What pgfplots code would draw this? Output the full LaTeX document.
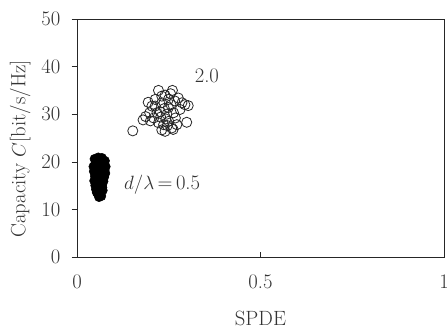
\documentclass[border=0pt]{standalone}
\usepackage{pgfplots}
\pgfplotsset{compat=1.18}
\definecolor{txt}{gray}{0.2}
\begin{document}
\begin{tikzpicture}
\begin{axis}[
  scale only axis, width=275.25pt, height=178.5pt,
  xmin=0, xmax=1, ymin=0, ymax=50,
  xtick={0,0.5,1}, xticklabels={0,0.5,1},
  ytick={0,10,20,30,40,50},
  /pgf/number format/assume math mode=true,
  xtick pos=bottom, ytick pos=left,
  xtick align=inside, ytick align=outside,
  major tick length=4pt,
  font=\fontsize{15.5}{18}\selectfont,
  tick label style={text=txt},
  yticklabel style={xshift=-5pt},
  xticklabel style={yshift=-10pt},
  axis line style={black!85},
  tick style={black!85},
  xlabel={SPDE}, ylabel={Capacity $C$[bit/s/Hz]},
  xlabel style={at={(axis description cs:0.5,-0.258)}, anchor=center, text=txt, inner sep=1pt},
  ylabel style={at={(axis description cs:-0.155,0.455)}, anchor=center, text=txt},
  clip=false,
]
\addplot[only marks, mark=*, mark size=3.5pt, mark options={fill=black, draw=black}] coordinates {
(0.048,20.6)(0.058,20.9)(0.068,20.8)(0.076,20.2)(0.052,19.8)(0.063,19.9)(0.072,19.5)(0.078,19.0)
(0.045,19.0)(0.055,18.8)(0.066,18.5)(0.075,18.2)(0.046,18.0)(0.060,17.8)(0.070,17.4)(0.077,17.6)
(0.049,17.0)(0.057,16.8)(0.067,16.5)(0.074,16.8)(0.047,16.0)(0.056,15.8)(0.065,15.5)(0.072,15.9)
(0.050,15.0)(0.060,14.8)(0.069,14.6)(0.052,14.2)(0.062,13.9)(0.070,14.0)(0.056,13.4)(0.064,13.1)
(0.060,12.6)(0.066,12.8)(0.054,13.6)(0.061,18.2)(0.053,17.4)(0.071,18.8)(0.064,20.2)(0.059,16.2)
(0.068,15.0)(0.051,16.4)(0.073,17.0)(0.055,19.4)(0.062,14.3)
};
\addplot[only marks, mark=o, mark size=3.8pt, mark options={draw=black!85, fill=white, line width=0.6pt}] coordinates {
(0.152,26.5)(0.222,35.0)(0.260,35.0)(0.240,34.0)(0.194,32.5)(0.187,29.5)(0.180,28.8)(0.198,30.3)
(0.213,31.7)(0.231,32.4)(0.249,33.1)(0.266,32.8)(0.294,32.0)(0.303,31.8)(0.299,28.3)(0.231,26.7)
(0.240,26.4)(0.258,27.1)(0.272,27.8)(0.250,28.5)(0.222,28.2)(0.209,29.2)(0.245,30.0)(0.263,30.3)
(0.281,31.0)(0.227,30.5)(0.213,33.1)(0.231,33.8)(0.249,31.4)(0.236,27.8)(0.268,29.2)(0.218,30.3)
(0.204,31.7)(0.286,32.4)(0.255,34.3)(0.242,29.0)(0.256,32.0)(0.238,31.2)(0.276,33.4)(0.200,28.6)
(0.262,26.8)(0.246,27.6)(0.228,29.4)
};
\node[text=txt, font=\fontsize{15.5}{18}\selectfont] at (axis cs:0.354,38.0) {2.0};
\node[text=txt, font=\fontsize{15.5}{18}\selectfont] at (axis cs:0.232,15.2) {$d/\lambda$\,=\,0.5};
\end{axis}
\pgfresetboundingbox
\path ([shift={(-57.75pt,-54.5pt)}]current axis.south west) rectangle ([shift={(2.25pt,14.25pt)}]current axis.north east);
\end{tikzpicture}
\end{document}
